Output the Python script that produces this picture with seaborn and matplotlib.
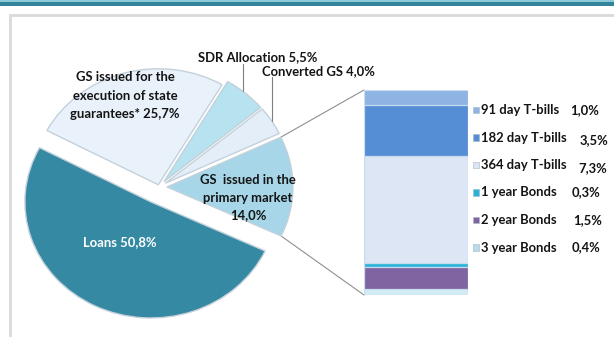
import numpy as np
import pandas as pd
import matplotlib
matplotlib.use("Agg")
import matplotlib.pyplot as plt
import seaborn as sns
from matplotlib.patches import Rectangle, ConnectionPatch

# Structure of the government debt, shares in %
pie_names = ["GS  issued in the\nprimary market", "Converted GS", "SDR Allocation",
             "GS issued for the\nexecution of state\nguarantees*", "Loans"]
pie_values = [14.0, 4.0, 5.5, 25.7, 50.8]
pie_colors = ["#A6D6E8", "#E3EEF9", "#B7E2EF", "#E9F2FB", "#3589A3"]

# Breakdown of GS issued in the primary market (top of the column first)
bar_names = ["91 day T-bills", "182 day T-bills", "364 day T-bills",
             "1 year Bonds", "2 year Bonds", "3 year Bonds"]
bar_values = [1.0, 3.5, 7.3, 0.3, 1.5, 0.4]
bar_colors = ["#8DB4E2", "#558ED5", "#DCE6F4", "#2DB4D8", "#8064A2", "#D3EBF2"]
legend_colors = ["#8DB4E2", "#558ED5", "#DCE6F2", "#2BB3D6", "#8064A2", "#B7DDE8"]


def pct(v):
    return f"{v:.1f}".replace(".", ",") + "%"


sns.set_theme(style="white")
plt.rcParams["font.family"] = ["Lato", "DejaVu Sans"]

W, H = 614, 337
fig = plt.figure(figsize=(W / 100, H / 100), dpi=100, facecolor="white")

# background layer in pixel units: header band and panel frame
ax_bg = fig.add_axes([0, 0, 1, 1], zorder=0)
ax_bg.set_xlim(0, W)
ax_bg.set_ylim(H, 0)
ax_bg.axis("off")
ax_bg.add_patch(Rectangle((0, 0), W, 2.2, color="#8CC8D6", lw=0))
ax_bg.add_patch(Rectangle((0, 2.2), W, 3.8, color="#31849B", lw=0))
ax_bg.add_patch(Rectangle((9.5, 14.5), W + 20, H + 20, facecolor="white",
                          edgecolor="#D9D9D9", lw=2))

# pie, slightly wider than tall
CX, CY, RX, RY, LIM = 159, 187, 126, 116, 1.4
ax_pie = fig.add_axes([(CX - LIM * RX) / W, (H - CY - LIM * RY) / H,
                       2 * LIM * RX / W, 2 * LIM * RY / H], zorder=2)
ax_pie.patch.set_alpha(0)
explode = [0.063, 0.06, 0.06, 0.02, 0.144]
wedges, _ = ax_pie.pie(pie_values, explode=explode, colors=pie_colors,
                       startangle=-25, counterclock=True,
                       wedgeprops=dict(edgecolor="#C3D1DB", linewidth=1.0))
ax_pie.set_xlim(-LIM, LIM)
ax_pie.set_ylim(-LIM, LIM)
ax_pie.set_aspect("auto")
ax_pie.axis("off")

# stacked column for the primary market issues
ax_bar = fig.add_axes([364 / W, (H - 295) / H, 104 / W, 205 / H], zorder=2)
ax_bar.patch.set_alpha(0)
tops = np.cumsum(bar_values[::-1])[::-1]
for top, col in zip(tops, bar_colors):
    sns.barplot(x=[0], y=[top], color=col, width=1.0, ax=ax_bar,
                edgecolor="#C9DCEF", linewidth=0.9, saturation=1)
ax_bar.set_xlim(-0.5, 0.5)
ax_bar.set_ylim(0, sum(bar_values))
ax_bar.axis("off")

# connectors from the primary-market slice to the column
w0 = wedges[0]
ox, oy = w0.center
top_pt = (ox + np.cos(np.radians(w0.theta2)), oy + np.sin(np.radians(w0.theta2)))
bot_pt = (ox + np.cos(np.radians(w0.theta1)), oy + np.sin(np.radians(w0.theta1)))
for pt, yb in [(top_pt, sum(bar_values)), (bot_pt, 0)]:
    con = ConnectionPatch(xyA=pt, coordsA=ax_pie.transData,
                          xyB=(-0.5, yb), coordsB=ax_bar.transData,
                          color="#8F8F8F", lw=0.8, zorder=1)
    fig.add_artist(con)

# leader lines for the two small slices
for idx, xpx, ytop in [(2, 243, 64), (1, 272, 77)]:
    w = wedges[idx]
    cx0, cy0 = w.center
    xd = (xpx - CX) / RX
    yarc = cy0 + np.sqrt(max(0.0, 1 - (xd - cx0) ** 2))
    ax_pie.plot([xd, xd], [yarc, (CY - ytop) / RY], color="#7F7F7F",
                lw=0.8, clip_on=False)

# text layer in pixel units
ax_tx = fig.add_axes([0, 0, 1, 1], zorder=5)
ax_tx.patch.set_alpha(0)
ax_tx.set_xlim(0, W)
ax_tx.set_ylim(H, 0)
ax_tx.axis("off")

FS = 9.4
txt = dict(fontsize=FS, fontweight="bold", color="#141414", ha="center", va="center")

prim_lines = pie_names[0].split("\n") + [pct(pie_values[0])]
for line, y in zip(prim_lines, [180, 198, 215]):
    ax_tx.text(248, y, line, **txt)
ax_tx.text(318, 71, f"{pie_names[1]} {pct(pie_values[1])}", **txt)
ax_tx.text(258, 57, f"{pie_names[2]} {pct(pie_values[2])}", **txt)
g_lines = pie_names[3].split("\n")
g_lines[-1] = g_lines[-1] + " " + pct(pie_values[3])
for line, y in zip(g_lines, [77, 95.5, 114]):
    ax_tx.text(125, y, line, **txt)
ax_tx.text(120, 242, f"{pie_names[4]} {pct(pie_values[4])}",
           **{**txt, "color": "white"})

# legend with values
val_x = [570, 580, 578, 572, 573, 572]
val_dy = [0, 3, 3, 0, 0, 0]
for i, (name, v, col) in enumerate(zip(bar_names, bar_values, legend_colors)):
    y = 110 + i * 27.5
    ax_tx.add_patch(Rectangle((473, y - 3.2), 6.4, 6.4, facecolor=col,
                              edgecolor="#A9B8C6", lw=0.4))
    ax_tx.text(481, y, name, **{**txt, "ha": "left"})
    ax_tx.text(val_x[i], y + val_dy[i], pct(v), **{**txt, "ha": "left"})

fig.savefig("out.png", dpi=100, facecolor="white")
